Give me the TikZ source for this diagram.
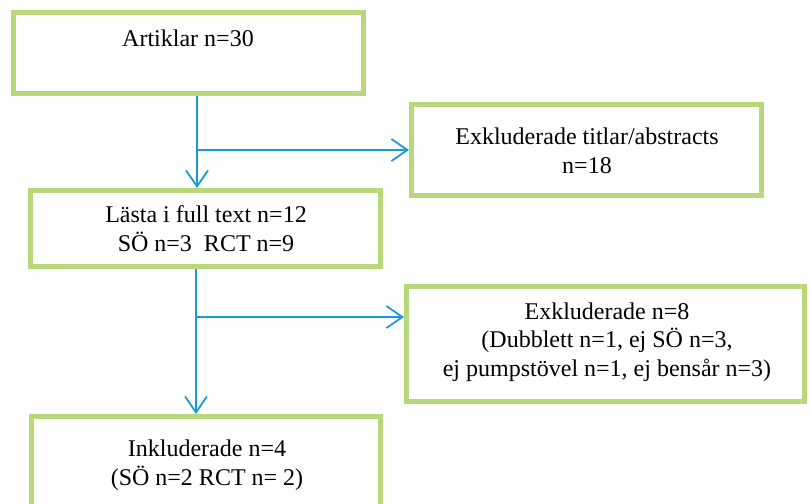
\documentclass[tikz,border=0pt]{standalone}
\usepackage{fontspec}
\setmainfont{Liberation Serif}
\usetikzlibrary{arrows.meta}
\definecolor{boxgreen}{HTML}{B9D87C}
\definecolor{arrblue}{HTML}{1B9AD8}
\tikzset{
  box/.style={draw=boxgreen, line width=5pt, rectangle, inner sep=0pt, fill=white},
  txt/.style={font=\fontsize{24}{28.5}\selectfont, align=center, inner sep=0pt, anchor=base},
  arr/.style={draw=arrblue, line width=1.8pt, -{Straight Barb[length=16pt, width=22pt, line width=1.8pt]}},
  link/.style={draw=arrblue, line width=1.8pt}
}
\begin{document}
\begin{tikzpicture}[x=1pt, y=-1pt]
\useasboundingbox (0,0) rectangle (810,503);
\node[box, minimum width=350pt, minimum height=81pt] (b1) at (188.5,53) {};
\node[box, minimum width=350pt, minimum height=91pt] (b2) at (586.5,150) {};
\node[box, minimum width=350pt, minimum height=76pt] (b3) at (205.5,228.5) {};
\node[box, minimum width=398pt, minimum height=115pt] (b4) at (605.5,344) {};
\node[box, minimum width=349pt, minimum height=110pt] (b5) at (206,471.5) {};

\node[txt] (t1) at (188,47) {Artiklar n=30};
\node[txt] (t2) at (587,173) {Exkluderade titlar/abstracts\\n=18};
\node[txt] (t3) at (206,251) {Lästa i full text n=12\\SÖ n=3\ \ RCT n=9};
\node[txt] (t4) at (607,376) {Exkluderade n=8\\(Dubblett n=1, ej SÖ n=3,\\ej pumpstövel n=1, ej bensår n=3)};
\node[txt] (t5) at (207,485) {Inkluderade n=4\\(SÖ n=2 RCT n= 2)};

\coordinate (j1) at (197,150);
\coordinate (j2) at (196,317);
\draw[arr] (j1 |- b1.south) -- (j1 |- b3.north);
\draw[arr] (j1) -- (b2.west);
\draw[arr] (j2 |- b3.south) -- (j2 |- b5.north);
\draw[arr] (j2) -- (j2 -| b4.west);
\end{tikzpicture}
\end{document}
